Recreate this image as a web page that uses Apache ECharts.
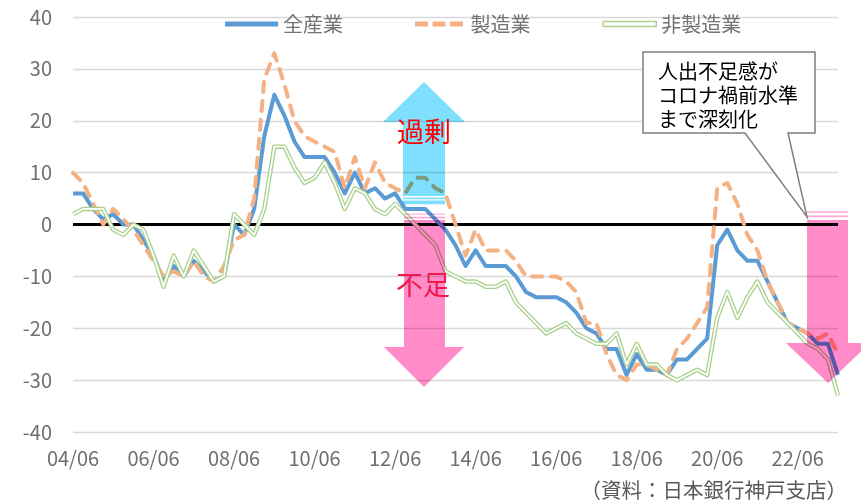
<!DOCTYPE html>
<html>
<head>
<meta charset="utf-8">
<script src="https://cdn.jsdelivr.net/npm/echarts@6.0.0/dist/echarts.min.js"></script>
<style>
html,body{margin:0;padding:0;background:#fff;}
#c{width:861px;height:504px;}
</style>
</head>
<body>
<div id="c"></div>
<script>
// ---- data (quarterly, 2004/06 .. 2023/06) ----
const categories = [];
for (let y = 2004; y <= 2023; y++) {
  for (const m of ['03', '06', '09', '12']) {
    const yy = String(y).slice(2);
    if (y === 2004 && m === '03') continue;
    if (y === 2023 && (m === '09' || m === '12')) continue;
    categories.push(yy + '/' + m);
  }
}
const seriesNames = ['全産業', '製造業', '非製造業'];
const allIndustries = [6,6,3,1,2,0,0,-3,-6,-11, -8,-10,-7,-9,-11,-10,0,-2,3,17, 25,21,16,13,13,13,10,6,10,6, 7,5,6,3,3,3,1,-1,-4,-8, -5,-8,-8,-8,-10,-13,-14,-14,-14,-15, -17,-20,-21,-24,-24,-29,-25,-28,-28,-29, -26,-26,-24,-22,-4,-1,-5,-7,-7,-11, -15,-19,-20,-21,-23,-23,-29];
const manufacturing = [10,8,4,0,3,1,-1,-4,-7,-10, -9,-10,-7,-10,-11,-8,-3,-2,5,28, 33,27,20,17,16,15,14,7,13,7, 12,8,7,6,9,9,7,6,0,-6, -1,-5,-5,-5,-7,-10,-10,-10,-10,-11, -13,-19,-19,-25,-29,-30,-27,-27,-28,-29, -24,-22,-19,-16,7,8,4,-2,-5,-11, -15,-19,-20,-21,-22,-21,-25];
const nonManufacturing = [2,3,3,3,-1,-2,0,-1,-6,-12, -6,-10,-5,-8,-11,-10,2,0,-2,3, 15,15,11,8,9,12,8,3,7,6, 3,2,4,2,0,-2,-4,-9,-10,-11, -11,-12,-12,-11,-15,-17,-19,-21,-20,-19, -21,-22,-23,-23,-21,-27,-23,-27,-27,-29, -30,-29,-28,-29,-18,-13,-18,-14,-11,-15, -17,-19,-21,-23,-24,-26,-33];
const yTicks = {min: -40, max: 40, interval: 10};
const xLabelEvery = 8;
const sourceText = '（資料：日本銀行神戸支店）';
const calloutText = '人出不足感が\nコロナ禍前水準\nまで深刻化';

// ---- styles ----
const FONT = '"Noto Sans CJK JP", "Noto Sans", sans-serif';
const BLUE = '#5B9BD5', ORANGE = '#F4B183', GREEN = '#A9D18E';
const CYAN = '#7EE0FD', PINK = '#FF8CC8';

const chart = echarts.init(document.getElementById('c'), null, {renderer: 'canvas'});

chart.setOption({
  backgroundColor: '#fff',
  animation: false,
  textStyle: {fontFamily: FONT},
  grid: {left: 73, right: 23, top: 17, bottom: 72, containLabel: false, outerBoundsMode: 'none'},
  title: {
    text: sourceText, right: 14, top: 480, padding: 0,
    textStyle: {fontSize: 20.5, fontWeight: 'normal', color: '#595959', fontFamily: FONT}
  },
  legend: {
    data: [
      {name: seriesNames[0], icon: 'rect', itemStyle: {color: BLUE}},
      {name: seriesNames[1], icon: 'path://M0,0H13V5H0Z M17.5,0H30.5V5H17.5Z M35,0H48V5H35Z', itemStyle: {color: ORANGE}},
      {name: seriesNames[2], icon: 'rect', itemStyle: {color: '#fff', borderColor: GREEN, borderWidth: 1.5}}
    ],
    left: 225, top: 14, padding: 0, itemWidth: 53, itemHeight: 5, itemGap: 72,
    selectedMode: false,
    textStyle: {color: '#737373', fontSize: 20, fontFamily: FONT}
  },
  xAxis: {
    type: 'category', data: categories, boundaryGap: false,
    axisLine: {show: false}, axisTick: {show: false}, splitLine: {show: false},
    axisLabel: {
      interval: function (idx) { return idx % xLabelEvery === 0; },
      color: '#6e6e6e', fontSize: 20, margin: 16, fontFamily: FONT
    }
  },
  yAxis: {
    type: 'value', min: yTicks.min, max: yTicks.max, interval: yTicks.interval,
    axisLine: {show: false}, axisTick: {show: false},
    axisLabel: {color: '#6e6e6e', fontSize: 20, margin: 21, fontFamily: FONT},
    splitLine: {lineStyle: {color: '#d9d9d9', width: 1.3}}
  },
  series: [
    {
      name: seriesNames[0], type: 'line', data: allIndustries, symbol: 'none',
      lineStyle: {color: BLUE, width: 4, join: 'round'}, itemStyle: {color: BLUE},
      emphasis: {disabled: true}, z: 2,
      markLine: {
        silent: true, symbol: ['none', 'none'], z: 1, animation: false,
        label: {show: false},
        lineStyle: {color: '#000', width: 3, type: 'solid'},
        emphasis: {disabled: true},
        data: [{yAxis: 0}]
      }
    },
    {
      name: seriesNames[1], type: 'line', data: manufacturing, symbol: 'none',
      lineStyle: {color: ORANGE, width: 4, type: [10, 9], cap: 'round', join: 'round'},
      itemStyle: {color: ORANGE}, emphasis: {disabled: true}, z: 3
    },
    {
      name: seriesNames[2], type: 'line', data: nonManufacturing, symbol: 'none',
      lineStyle: {color: GREEN, width: 4.4, join: 'round'}, itemStyle: {color: GREEN},
      emphasis: {disabled: true}, z: 4
    },
    {
      name: seriesNames[2] + ' inner', type: 'line', data: nonManufacturing, symbol: 'none',
      lineStyle: {color: '#fff', width: 1.8, join: 'round'}, itemStyle: {color: '#fff'},
      emphasis: {disabled: true}, silent: true, z: 5
    }
  ],
  graphic: [
    // cyan up arrow (過剰)
    {type: 'polygon', z: 20, shape: {points: [[383,122],[424,82],[465,122],[445,122],[445,196],[403,196],[403,122]]},
      style: {fill: CYAN, blend: 'multiply'}},
    {type: 'rect', z: 20, shape: {x: 403, y: 197.4, width: 42, height: 1.8}, style: {fill: CYAN, blend: 'multiply'}},
    {type: 'rect', z: 20, shape: {x: 403, y: 200.6, width: 42, height: 3.6}, style: {fill: CYAN, blend: 'multiply'}},
    // pink down arrow (不足)
    {type: 'rect', z: 20, shape: {x: 404, y: 213.5, width: 41, height: 1.6}, style: {fill: PINK, opacity: 0.55, blend: 'multiply'}},
    {type: 'rect', z: 20, shape: {x: 404, y: 216.8, width: 41, height: 1.6}, style: {fill: PINK, opacity: 0.75, blend: 'multiply'}},
    {type: 'polygon', z: 20, shape: {points: [[404,220],[445,220],[445,347],[464,347],[424,387],[384,347],[404,347]]},
      style: {fill: PINK, blend: 'multiply'}},
    // pink down arrow at the right
    {type: 'rect', z: 20, shape: {x: 807, y: 211, width: 41, height: 2}, style: {fill: PINK, opacity: 0.55, blend: 'multiply'}},
    {type: 'rect', z: 20, shape: {x: 807, y: 215.5, width: 41, height: 1.8}, style: {fill: PINK, opacity: 0.75, blend: 'multiply'}},
    {type: 'polygon', z: 20, shape: {points: [[807,220],[848,220],[848,343],[870,343],[828,383],[786,343],[807,343]]},
      style: {fill: PINK, blend: 'multiply'}},
    // arrow labels
    {type: 'text', z: 30, x: 424, y: 132,
      style: {text: '過剰', fill: '#FF0000', fontSize: 27, fontFamily: FONT, align: 'center', verticalAlign: 'middle', textAlign: 'center', textVerticalAlign: 'middle'}},
    {type: 'text', z: 30, x: 423, y: 285,
      style: {text: '不足', fill: '#EE1A4C', fontSize: 27, fontFamily: FONT, align: 'center', verticalAlign: 'middle', textAlign: 'center', textVerticalAlign: 'middle'}},
    // callout
    {type: 'polygon', z: 40, shape: {points: [[643,52],[815,52],[815,133],[788,133],[807,217],[745,133],[643,133]]},
      style: {fill: '#fff', stroke: '#7f7f7f', lineWidth: 1.5}},
    {type: 'text', z: 41, x: 658, y: 59,
      style: {text: calloutText, fill: '#000', fontSize: 20, lineHeight: 24, fontFamily: FONT, align: 'left', verticalAlign: 'top', textAlign: 'left', textVerticalAlign: 'top'}}
  ]
});
</script>
</body>
</html>
